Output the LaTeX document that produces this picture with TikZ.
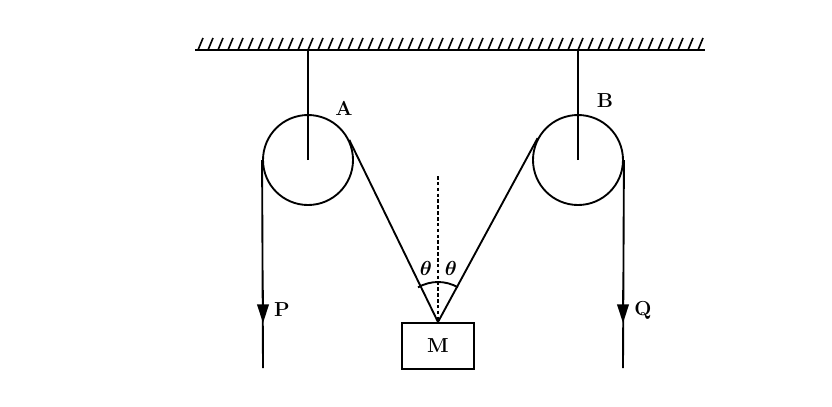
\documentclass[tikz,border=0pt]{standalone}
\usepackage{amsmath,amssymb}
\usetikzlibrary{arrows.meta,calc}
\begin{document}
\begin{tikzpicture}[x=0.03cm,y=-0.03cm,line width=1.6pt]
% styles
\tikzset{
	pulley/.style={draw, circle, minimum size=90*0.03cm, inner sep=0pt},
	lbl/.style={font=\bfseries\LARGE, inner sep=1pt},
	force/.style={-{Triangle[length=16pt,width=10pt]}}
}
\useasboundingbox (0,0) rectangle (832,406);
% ceiling
\coordinate (cl) at (195,50);
\coordinate (cr) at (705,50);
\draw (cl) -- (cr);
\foreach \i in {0,...,50} {
	\draw[line width=1.4pt] (198+10*\i,50) -- ++(5,-12);
}
% pulleys
\node[pulley] (A) at (308,160) {};
\node[pulley] (B) at (578,160) {};
\draw (A.center) -- (A.center |- cl);
\draw (B.center) -- (B.center |- cr);
\node[lbl] at (344,108) {A};
\node[lbl] at (605,101) {B};
% mass
\node[draw, minimum width=72*0.03cm, minimum height=46*0.03cm, anchor=north, inner sep=0pt] (M) at (438,322) {};
\node[lbl] at (M.center) {M};
\coordinate (m) at (M.north);
% ropes
\draw (m) -- (tangent cs:node=A,point={(m)},solution=1);
\draw (m) -- (tangent cs:node=B,point={(m)},solution=2);
\draw (A.west) -- (263,368);
\draw (B.east) -- (623,368);
\draw[force] (263,290) -- (263,323);
\draw[force] (623,290) -- (623,323);
\node[lbl] at (282,310) {P};
\node[lbl] at (643,310) {Q};
% vertical
\draw[dashed, line width=1.4pt, dash pattern=on 3pt off 2pt] (438,176) -- (m);
\draw (m) ++(-120:40) arc[start angle=-120, end angle=-60, radius=40];
\node[lbl] at (426,268) {$\boldsymbol{\theta}$};
\node[lbl] at (451,268) {$\boldsymbol{\theta}$};
\end{tikzpicture}
\end{document}
